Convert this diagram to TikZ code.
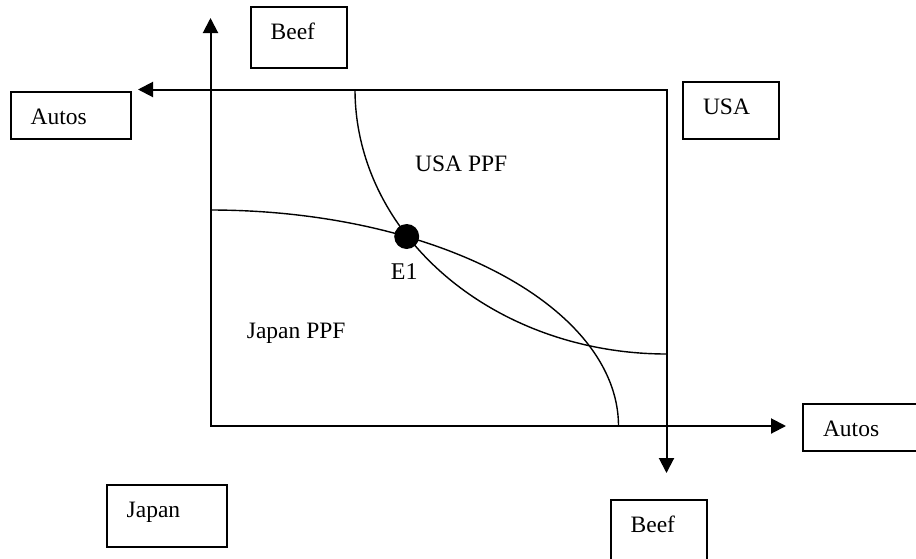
\documentclass[tikz,border=0pt]{standalone}
\usepackage{fontspec}
\setmainfont{Liberation Serif}
\usepackage{tikz}
\usetikzlibrary{arrows.meta}

\tikzset{
	axis/.style={line width=2pt, {Triangle[length=15pt, width=15pt]}-{Triangle[length=15pt, width=15pt]}},
	ppf/.style={line width=1.4pt},
	box/.style={draw, line width=1.8pt, anchor=north west, inner xsep=20pt, inner ysep=0pt, outer sep=0pt, text height=32.5pt, align=left},
	lab/.style={anchor=base west, inner sep=0pt}
}

\begin{document}
\begin{tikzpicture}[x=1pt, y=-1pt, every node/.style={font=\fontsize{23.5}{28}\selectfont}]
		\useasboundingbox (0, 0) rectangle (916, 558);
		\coordinate (jo) at (210.5, 426);
		\coordinate (jy) at (210.5, 18);
		\coordinate (jx) at (786, 426);
		\coordinate (uo) at (666.5, 89.5);
		\coordinate (ux) at (138, 89.5);
		\coordinate (uy) at (666.5, 473);
		\draw[axis] (jy) -- (jo) -- (jx);
		\draw[axis] (ux) -- (uo) -- (uy);
		\draw[ppf] plot[domain=0:90, samples=90] ({210.5+408*cos(\x)}, {426-216*sin(\x)});
		\draw[ppf] plot[domain=0:90, samples=90] ({666.5-311.5*cos(\x)}, {89.5+264.5*sin(\x)});
		\node[circle, fill=black, inner sep=0pt, minimum size=25pt] (e1) at (406.7, 236.5) {};
		\node[lab, font=\fontsize{24}{28}\selectfont] (e1lab) at (390.7, 279.3) {E1};
		\node[lab] (usappf) at (415, 171.7) {USA PPF};
		\node[lab] (japanppf) at (246.7, 338.3) {Japan PPF};
		\foreach \nm/\x/\y/\tw/\td/\txt in {beeftop/250.7/7.3/56.6/27.9/Beef, autosleft/10.7/91.7/80.3/15.1/Autos, usabox/683/82/56/24.8/USA, autosright/803/403.7/90/15.1/Autos, beefbottom/610.7/499.7/56.3/37.5/Beef, japanbox/106.7/484.7/80.6/30.1/Japan}
			\node[box, text width=\tw pt, text depth=\td pt] (\nm) at (\x, \y) {\txt};
	\end{tikzpicture}
\end{document}
